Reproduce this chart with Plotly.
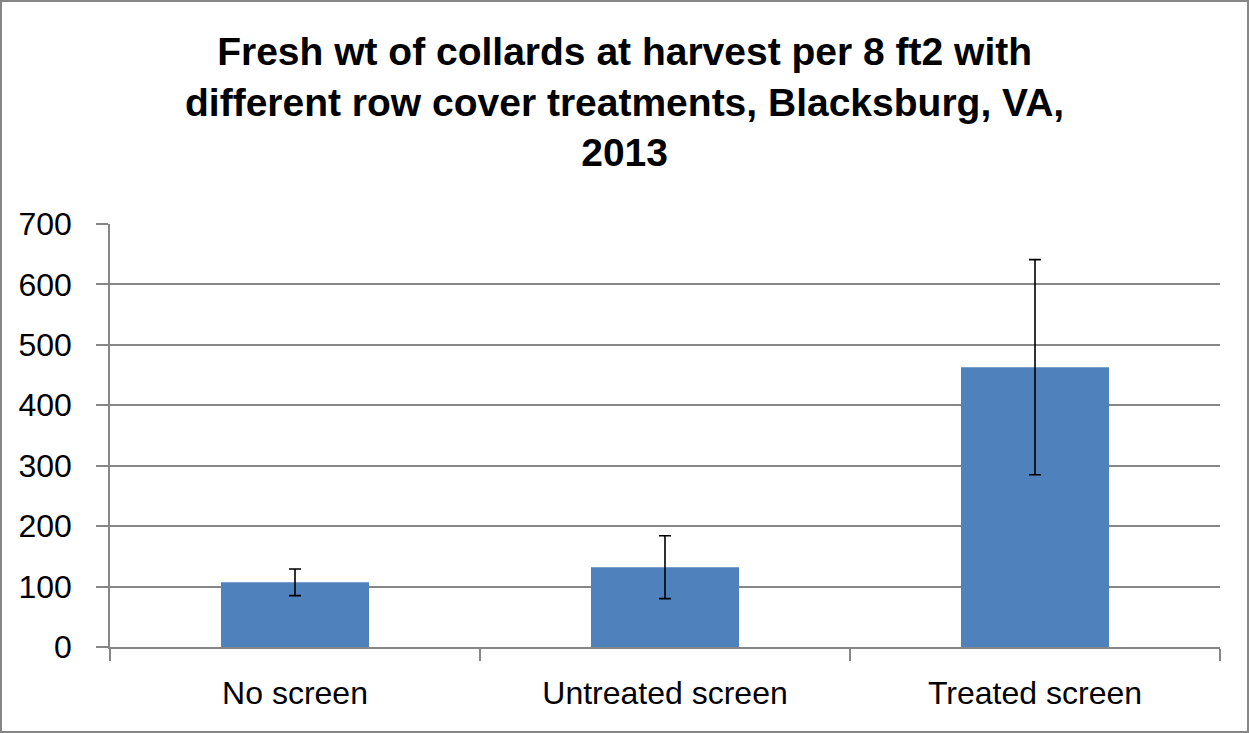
import plotly.graph_objects as go

categories = ["No screen", "Untreated screen", "Treated screen"]
fresh_wt = [107, 132, 463]
err = [22, 52, 178]
y_ticks = [0, 100, 200, 300, 400, 500, 600, 700]
title_text = "Fresh wt of collards at harvest per 8 ft2 with<br>different row cover treatments, Blacksburg, VA,<br>2013"

W, H = 1249, 733
ml, mr, mt, mb = 110, 29, 224, 86
pw, ph = W - ml - mr, H - mt - mb
FONT = "Liberation Sans, Arial, sans-serif"

fig = go.Figure(go.Bar(
    x=categories, y=fresh_wt, width=0.4,
    marker=dict(color="#4F81BD", line=dict(width=0)),
    error_y=dict(type="data", array=err, visible=True, color="black", thickness=1.6, width=6),
))

fig.update_layout(
    width=W, height=H,
    margin=dict(l=ml, r=mr, t=mt, b=mb),
    paper_bgcolor="white", plot_bgcolor="white",
    font=dict(family=FONT, color="black"),
    showlegend=False,
    bargap=0.6,
    xaxis=dict(
        showline=True, linecolor="#868686", linewidth=1.5,
        ticks="outside", tickson="boundaries", ticklen=12, tickcolor="#868686", tickwidth=1.5,
        tickfont=dict(size=32), showgrid=False, ticklabelstandoff=17,
    ),
    yaxis=dict(
        range=[0, 700], tickvals=y_ticks, showline=True, linecolor="#868686", linewidth=1.5,
        ticks="outside", ticklen=12, tickcolor="#868686", tickwidth=1.5,
        showgrid=True, gridcolor="#868686", gridwidth=1.5,
        tickfont=dict(size=32), ticklabelstandoff=18, zeroline=False,
    ),
    annotations=[dict(
        text=title_text, xref="paper", yref="paper",
        x=(624 - ml) / pw, y=1 + (mt - 102) / ph,
        xanchor="center", yanchor="middle", align="center", showarrow=False,
        font=dict(size=39, family=FONT, color="black", weight="bold"),
    )],
    shapes=[dict(
        type="rect", xref="paper", yref="paper",
        x0=-(ml - 1) / pw, x1=1 + (mr - 1) / pw,
        y0=-(mb - 1) / ph, y1=1 + (mt - 1) / ph,
        line=dict(color="#868686", width=2), fillcolor="rgba(0,0,0,0)", layer="below",
    )],
)

fig.write_html("out.html", config={"displayModeBar": False},
               post_script="document.body.style.margin='0';document.body.style.overflow='hidden';")
